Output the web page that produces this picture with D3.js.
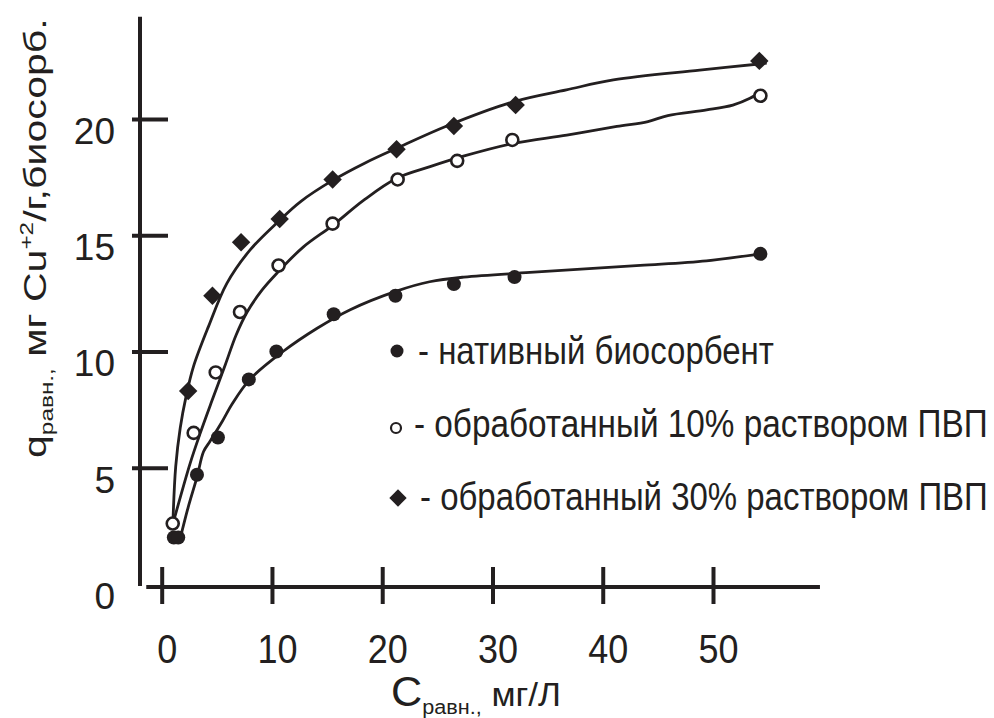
<!DOCTYPE html>
<html>
<head>
<meta charset="utf-8">
<script src="https://cdn.jsdelivr.net/npm/d3@7"></script>
<style>
  body { margin: 0; background: #fff; }
  svg { display: block; }
  text { font-family: "Liberation Sans", Arial, sans-serif; fill: #231f20; }
</style>
</head>
<body>
<svg id="chart" width="994" height="718"></svg>
<script>
// Measured points: native biosorbent (filled circles)
const nativeC = [1.1, 1.5, 3.2, 5.1, 7.9, 10.4, 15.6, 21.2, 26.5, 32.0, 54.3];
const nativeQ = [2.0, 2.0, 4.7, 6.3, 8.8, 10.0, 11.6, 12.4, 12.9, 13.2, 14.2];

// Treated with 10% PVP solution (open circles)
const pvp10C = [1.0, 2.9, 4.9, 7.1, 10.6, 15.5, 21.4, 26.8, 31.8, 54.3];
const pvp10Q = [2.6, 6.5, 9.1, 11.7, 13.7, 15.5, 17.4, 18.2, 19.1, 21.0];

// Treated with 30% PVP solution (diamonds)
const pvp30C = [2.4, 4.6, 7.2, 10.7, 15.5, 21.3, 26.5, 32.1, 54.2];
const pvp30Q = [8.3, 12.4, 14.7, 15.7, 17.4, 18.7, 19.7, 20.6, 22.5];

// Hand-fitted isotherm curves
const nativeFitC = [1.7, 2.4, 3.2, 3.8, 4.4, 5.5, 6.4, 8.0, 11.0, 14.1, 17.1, 21.3, 24.3, 27.4, 33.4, 43.4, 49.4, 54.3];
const nativeFitQ = [2.0, 3.3, 4.6, 5.7, 6.15, 7.0, 7.75, 8.8, 10.0, 11.0, 11.8, 12.6, 13.0, 13.2, 13.4, 13.7, 13.9, 14.2];

const pvp10FitC = [1.07, 2.58, 3.49, 4.58, 5.76, 6.75, 7.75, 9.11, 10.47, 12.83, 15.55, 18.3, 21.32, 24.34, 27.36, 31.89, 36.74, 41.28, 44.1, 45.9, 49.43, 51.8, 53.35, 54.56];
const pvp10FitQ = [2.68, 5.19, 6.48, 7.91, 9.42, 10.71, 11.7, 12.65, 13.38, 14.49, 15.44, 16.5, 17.45, 17.95, 18.4, 18.95, 19.31, 19.68, 19.89, 20.15, 20.39, 20.6, 20.89, 21.25];

const pvp30FitC = [1.02, 1.27, 1.68, 2.22, 2.88, 4.24, 5.91, 8.02, 10.6, 12.6, 15.58, 18.45, 21.35, 25.97, 31.9, 36.7, 40.96, 48.8, 54.87];
const pvp30FitQ = [2.68, 5.05, 6.71, 8.09, 9.35, 11.07, 12.93, 14.37, 15.6, 16.45, 17.38, 18.11, 18.75, 19.72, 20.74, 21.25, 21.68, 22.1, 22.4];

// Axis ticks and texts
const xTickVals = [0, 10, 20, 30, 40, 50];
const yTickVals = [0, 5, 10, 15, 20];
const legendLabels = [
  "- нативный биосорбент",
  "- обработанный 10% раствором ПВП",
  "- обработанный 30% раствором ПВП"
];

const ink = "#231f20";
const svg = d3.select("#chart");

const x = d3.scaleLinear().domain([0, 50]).range([161.7, 713]);
const y = d3.scaleLinear().domain([0, 20]).range([584, 119]);

const axisX = 140;        // position of the vertical axis line
const axisY = y(0) + 3;   // position of the horizontal axis line

// ---- vertical axis ----
const yAxis = d3.axisLeft(y).tickValues(yTickVals).tickSize(0).tickFormat(d3.format("d"));
const gy = svg.append("g").attr("transform", `translate(${axisX},0)`).call(yAxis);
gy.select(".domain").remove();
gy.selectAll(".tick text")
  .attr("x", -25).attr("y", 11).attr("dy", "0.36em")
  .attr("font-size", 37).attr("fill", ink)
  .style("font-family", '"Liberation Sans", Arial, sans-serif');
gy.selectAll(".tick").filter(d => d > 0).append("line")
  .attr("x1", -8).attr("x2", 28).attr("stroke", ink).attr("stroke-width", 4);
svg.append("line")
  .attr("x1", axisX).attr("x2", axisX)
  .attr("y1", y(24.4)).attr("y2", y(0) + 2)
  .attr("stroke", ink).attr("stroke-width", 4);

// ---- horizontal axis ----
const xAxis = d3.axisBottom(x).tickValues(xTickVals).tickSize(0).tickFormat(d3.format("d"));
const gx = svg.append("g").attr("transform", `translate(0,${axisY})`).call(xAxis);
gx.select(".domain").remove();
gx.selectAll(".tick text")
  .attr("x", 0).attr("y", 0).attr("dy", 0)
  .attr("transform", "translate(5,76) scale(0.9,1)")
  .attr("font-size", 40).attr("fill", ink)
  .style("font-family", '"Liberation Sans", Arial, sans-serif');
gx.selectAll(".tick").append("line")
  .attr("y1", -20).attr("y2", 17).attr("stroke", ink).attr("stroke-width", 4);
svg.append("line")
  .attr("x1", x(-1.4)).attr("x2", x(59.7))
  .attr("y1", axisY).attr("y2", axisY)
  .attr("stroke", ink).attr("stroke-width", 4);

// stretch a text element so that its run is exactly `len` pixels long
function fitText(t, len, transformPrefix) {
  const w = t.node().getComputedTextLength();
  t.attr("transform", `${transformPrefix} scale(${len / w},1)`);
}

// ---- axis titles ----
const xt = svg.append("text").attr("x", 0).attr("y", 0);
xt.append("tspan").attr("font-size", 42).text("C");
xt.append("tspan").attr("font-size", 21).attr("dy", 8).text("равн.,");
xt.append("tspan").attr("font-size", 34).attr("dy", -8).text(" мг/Л");
fitText(xt, 170, "translate(391,706)");

const yt = svg.append("text").attr("x", 0).attr("y", 0);
yt.append("tspan").attr("font-size", 32).text("q");
yt.append("tspan").attr("font-size", 19).attr("dy", 7).text("равн.,");
yt.append("tspan").attr("font-size", 32).attr("dy", -7).text(" мг Cu");
yt.append("tspan").attr("font-size", 19).attr("dy", -13).text("+2");
yt.append("tspan").attr("font-size", 32).attr("dy", 13).text("/г,биосорб.");
fitText(yt, 440, "translate(46,458) rotate(-90)");

// ---- fitted curves ----
const line = d3.line().x(d => x(d[0])).y(d => y(d[1])).curve(d3.curveCatmullRom.alpha(0.5));
const curves = [
  d3.zip(nativeFitC, nativeFitQ),
  d3.zip(pvp10FitC, pvp10FitQ),
  d3.zip(pvp30FitC, pvp30FitQ)
];
svg.append("g").selectAll("path").data(curves).join("path")
  .attr("d", line).attr("fill", "none")
  .attr("stroke", ink).attr("stroke-width", 2.8).attr("stroke-linejoin", "round");

// ---- markers ----
svg.append("g").selectAll("circle").data(d3.zip(nativeC, nativeQ)).join("circle")
  .attr("cx", d => x(d[0])).attr("cy", d => y(d[1])).attr("r", 7).attr("fill", ink);

svg.append("g").selectAll("circle").data(d3.zip(pvp10C, pvp10Q)).join("circle")
  .attr("cx", d => x(d[0])).attr("cy", d => y(d[1])).attr("r", 6)
  .attr("fill", "#fff").attr("stroke", ink).attr("stroke-width", 2.6);

const diamond = d3.symbol(d3.symbolSquare, 170);
svg.append("g").selectAll("path").data(d3.zip(pvp30C, pvp30Q)).join("path")
  .attr("d", diamond)
  .attr("transform", d => `translate(${x(d[0])},${y(d[1])}) rotate(45)`)
  .attr("fill", ink);

// ---- legend ----
const legend = svg.append("g");
legend.append("circle").attr("cx", 397).attr("cy", 351).attr("r", 6.5).attr("fill", ink);
legend.append("circle").attr("cx", 396).attr("cy", 428).attr("r", 5)
  .attr("fill", "#fff").attr("stroke", ink).attr("stroke-width", 2.2);
legend.append("path").attr("d", d3.symbol(d3.symbolSquare, 150))
  .attr("transform", "translate(398,498) rotate(45)").attr("fill", ink);

const legendRows = [
  { x0: 418, len: 356, base: 364 },
  { x0: 414, len: 574, base: 437 },
  { x0: 420, len: 568, base: 510 }
];
legendLabels.forEach((s, i) => {
  const r = legendRows[i];
  const t = legend.append("text").attr("font-size", 39).text(s);
  fitText(t, r.len, `translate(${r.x0},${r.base})`);
});
</script>
</body>
</html>
